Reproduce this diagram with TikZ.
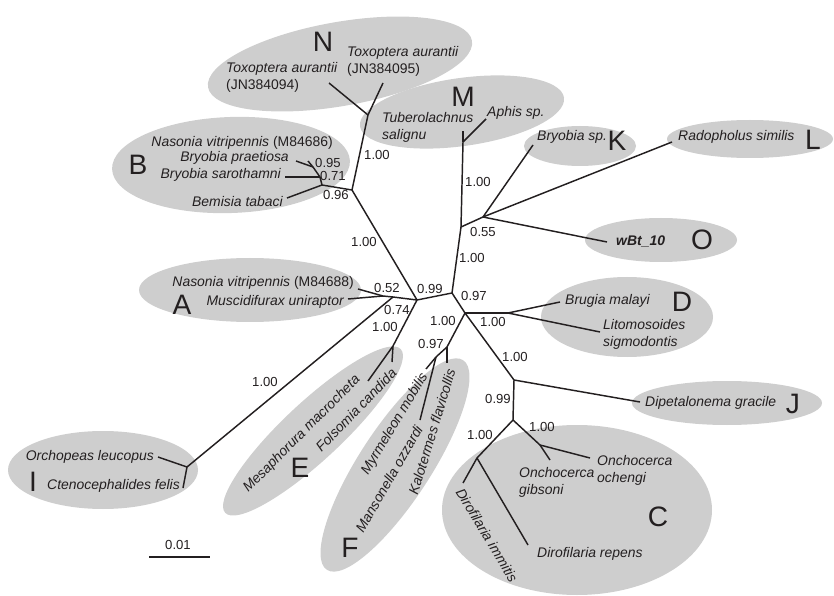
\documentclass[tikz,border=0pt]{standalone}
\usepackage{fontspec}
\setmainfont{Liberation Sans}
\usetikzlibrary{positioning}
\definecolor{cladegray}{RGB}{206,206,206}
\definecolor{inkblack}{RGB}{35,31,32}

\begin{document}
\begin{tikzpicture}[
    x=0.03cm, y=-0.03cm,
    clade/.style={fill=cladegray, draw=none},
    branch/.style={draw=inkblack, line width=1.25pt},
    taxon/.style={font=\fontsize{11.9}{14.5}\selectfont\itshape, text=inkblack, inner sep=0pt, align=left},
    support/.style={font=\fontsize{11.2}{12}\selectfont, text=inkblack, inner sep=0pt},
    letter/.style={font=\fontsize{24}{24}\selectfont, text=inkblack, inner sep=0pt}
]
\useasboundingbox (0,0) rectangle (834,596);

% clade shading
\fill[clade, rotate around={10:(340,64)}] (340,64) ellipse [x radius=134, y radius=42];
\fill[clade, rotate around={8:(462,112)}] (462,112) ellipse [x radius=103, y radius=34];
\fill[clade, rotate around={2:(231,165)}] (231,165) ellipse [x radius=119, y radius=48];
\fill[clade] (580,146) ellipse [x radius=56, y radius=20];
\fill[clade] (750,139) ellipse [x radius=83, y radius=19];
\fill[clade] (661,240) ellipse [x radius=76, y radius=22];
\fill[clade] (250,290) ellipse [x radius=111, y radius=32];
\fill[clade] (627,317) ellipse [x radius=86, y radius=40];
\fill[clade] (727,403) ellipse [x radius=95, y radius=22];
\fill[clade] (103,470) ellipse [x radius=95, y radius=39];
\fill[clade, rotate around={43:(313,431)}] (313,431) ellipse [x radius=120, y radius=29];
\fill[clade, rotate around={57:(395,465)}] (395,465) ellipse [x radius=125, y radius=36];
\fill[clade] (577,510) ellipse [x radius=135, y radius=85];

% inner nodes
\coordinate (nc) at (417,300);
\coordinate (n2) at (452,293);
\coordinate (nO) at (461,227);
\coordinate (nM) at (463,142);
\coordinate (nK) at (483,217);
\coordinate (n96) at (352,190);
\coordinate (nN) at (368,115);
\coordinate (nB1) at (322,185);
\coordinate (nB2) at (320,177);
\coordinate (nB3) at (313,167);
\coordinate (nA0) at (393,297);
\coordinate (nA) at (383,296);
\coordinate (nI) at (187,467);
\coordinate (nE) at (393,346);
\coordinate (n3) at (465,313);
\coordinate (nD) at (508,313);
\coordinate (nF1) at (447,347);
\coordinate (nF2) at (436,357);
\coordinate (nJ) at (514,380);
\coordinate (nC) at (513,420);
\coordinate (nOn) at (540,445);
\coordinate (nDi) at (477,458);

% leaf tips
\coordinate (tTu) at (463,131);
\coordinate (tAp) at (486,119);
\coordinate (tK) at (533,145);
\coordinate (tL) at (672,142);
\coordinate (tO) at (607,242);
\coordinate (tN1) at (329,83);
\coordinate (tN2) at (383,83);
\coordinate (tBe) at (287,198);
\coordinate (tSa) at (285,177);
\coordinate (tPr) at (296,161);
\coordinate (tNa1) at (308,161);
\coordinate (tNa2) at (358,289);
\coordinate (tMu) at (348,299);
\coordinate (tOr) at (158,457);
\coordinate (tCt) at (183,488);
\coordinate (tMe) at (368,381);
\coordinate (tFo) at (392,362);
\coordinate (tBr) at (560,302);
\coordinate (tLi) at (600,332);
\coordinate (tKa) at (447,363);
\coordinate (tMy) at (426,369);
\coordinate (tMa) at (420,420);
\coordinate (tDi) at (640,402);
\coordinate (tGi) at (550,460);
\coordinate (tOc) at (590,458);
\coordinate (tIm) at (463,483);
\coordinate (tRe) at (528,545);

% branches
\draw[branch] (nc) -- (n2);
\draw[branch] (n2) -- (nO);
\draw[branch] (nO) -- (nM);
\draw[branch] (nM) -- (tTu);
\draw[branch] (nM) -- (tAp);
\draw[branch] (nO) -- (nK);
\draw[branch] (nK) -- (tK);
\draw[branch] (nK) -- (tL);
\draw[branch] (nK) -- (tO);
\draw[branch] (nc) -- (n96);
\draw[branch] (n96) -- (nN);
\draw[branch] (nN) -- (tN1);
\draw[branch] (nN) -- (tN2);
\draw[branch] (n96) -- (nB1);
\draw[branch] (nB1) -- (tBe);
\draw[branch] (nB1) -- (nB2);
\draw[branch] (nB2) -- (tSa);
\draw[branch] (nB2) -- (nB3);
\draw[branch] (nB3) -- (tPr);
\draw[branch] (nB3) -- (tNa1);
\draw[branch] (nc) -- (nA0);
\draw[branch] (nA0) -- (nA);
\draw[branch] (nA) -- (tNa2);
\draw[branch] (nA) -- (tMu);
\draw[branch] (nA0) -- (nI);
\draw[branch] (nI) -- (tOr);
\draw[branch] (nI) -- (tCt);
\draw[branch] (nc) -- (nE);
\draw[branch] (nE) -- (tMe);
\draw[branch] (nE) -- (tFo);
\draw[branch] (n2) -- (n3);
\draw[branch] (n3) -- (nD);
\draw[branch] (nD) -- (tBr);
\draw[branch] (nD) -- (tLi);
\draw[branch] (n3) -- (nF1);
\draw[branch] (nF1) -- (tKa);
\draw[branch] (nF1) -- (nF2);
\draw[branch] (nF2) -- (tMy);
\draw[branch] (nF2) -- (tMa);
\draw[branch] (n3) -- (nJ);
\draw[branch] (nJ) -- (tDi);
\draw[branch] (nJ) -- (nC);
\draw[branch] (nC) -- (nOn);
\draw[branch] (nOn) -- (tGi);
\draw[branch] (nOn) -- (tOc);
\draw[branch] (nC) -- (nDi);
\draw[branch] (nDi) -- (tIm);
\draw[branch] (nDi) -- (tRe);

% taxa
\node[taxon, anchor=west] (txN1) at (226,77) {Toxoptera aurantii\\\textup{(JN384094)}};
\node[taxon, anchor=west] (txN2) at (347,61) {Toxoptera aurantii\\\textup{(JN384095)}};
\node[taxon, anchor=west] (txTu) at (382,127) {Tuberolachnus\\salignu};
\node[taxon, anchor=west] (txAp) at (487,113) {Aphis sp.};
\node[taxon, anchor=east] (txNa1) at (333,143) {Nasonia vitripennis \textup{(M84686)}};
\node[taxon, anchor=east] (txPr) at (289,158) {Bryobia praetiosa};
\node[taxon, anchor=east] (txSa) at (281,175) {Bryobia sarothamni};
\node[taxon, anchor=east] (txBe) at (283,202) {Bemisia tabaci};
\node[taxon, anchor=west] (txK) at (537,137) {Bryobia sp.};
\node[taxon, anchor=west] (txL) at (678,137) {Radopholus similis};
\node[taxon, anchor=west] (txO) at (616,241) {\bfseries wBt\_10};
\node[taxon, anchor=east] (txNa2) at (354,283) {Nasonia vitripennis \textup{(M84688)}};
\node[taxon, anchor=east] (txMu) at (344,302) {Muscidifurax uniraptor};
\node[taxon, anchor=west] (txBr) at (565,301) {Brugia malayi};
\node[taxon, anchor=west] (txLi) at (603,334) {Litomosoides\\sigmodontis};
\node[taxon, anchor=west] (txDi) at (645,403) {Dipetalonema gracile};
\node[taxon, anchor=west] (txGi) at (519,482) {Onchocerca\\gibsoni};
\node[taxon, anchor=west] (txOc) at (597,470) {Onchocerca\\ochengi};
\node[taxon, anchor=west] (txRe) at (537,554) {Dirofilaria repens};
\node[taxon, rotate=-59] (txIm) at (487,535) {Dirofilaria immitis};
\node[taxon, anchor=east] (txOr) at (154,457) {Orchopeas leucopus};
\node[taxon, anchor=east] (txCt) at (180,486) {Ctenocephalides felis};
\node[taxon, rotate=45] (txMe) at (302,434) {Mesaphorura macrocheta};
\node[taxon, rotate=46] (txFo) at (356,410) {Folsomia candida};
\node[taxon, rotate=59] (txMy) at (395,424) {Myrmeleon mobilis};
\node[taxon, rotate=60] (txMa) at (389,479) {Mansonella ozzardi};
\node[taxon, rotate=73] (txKa) at (432,432) {Kalotermes flavicollis};

% clade letters
\node[letter] (lN) at (323,42) {N};
\node[letter] (lM) at (463,97) {M};
\node[letter] (lB) at (138,165) {B};
\node[letter] (lK) at (617,141) {K};
\node[letter] (lL) at (813,140) {L};
\node[letter] (lO) at (702,240) {O};
\node[letter] (lA) at (182,305) {A};
\node[letter] (lD) at (682,302) {D};
\node[letter] (lJ) at (793,404) {J};
\node[letter] (lC) at (658,517) {C};
\node[letter] (lI) at (33,482) {I};
\node[letter] (lE) at (300,468) {E};
\node[letter] (lF) at (350,548) {F};

% support values
\node[support] (sN) at (377,155) {1.00};
\node[support] (s96) at (364,242) {1.00};
\node[support] (sM) at (478,182) {1.00};
\node[support] (sK) at (483,232) {0.55};
\node[support] (sO) at (472,258) {1.00};
\node[support] (sC1) at (430,289) {0.99};
\node[support] (sC2) at (474,296) {0.97};
\node[support] (sB3) at (328,163) {0.95};
\node[support] (sB2) at (333,176) {0.71};
\node[support] (sB1) at (336,195) {0.96};
\node[support] (sA) at (387,288) {0.52};
\node[support] (sA0) at (397,310) {0.74};
\node[support] (sE) at (385,327) {1.00};
\node[support] (sI) at (265,382) {1.00};
\node[support] (sF2) at (431,344) {0.97};
\node[support] (sF1) at (443,321) {1.00};
\node[support] (sD) at (493,322) {1.00};
\node[support] (sJ) at (515,357) {1.00};
\node[support] (sC) at (498,399) {0.99};
\node[support] (sDi) at (480,435) {1.00};
\node[support] (sOn) at (542,427) {1.00};

% scale bar
\coordinate (bar1) at (149,557);
\coordinate (bar2) at (210,557);
\draw[branch] (bar1) -- (bar2);
\node[support] (barlab) at (178,545) {0.01};
\end{tikzpicture}
\end{document}
